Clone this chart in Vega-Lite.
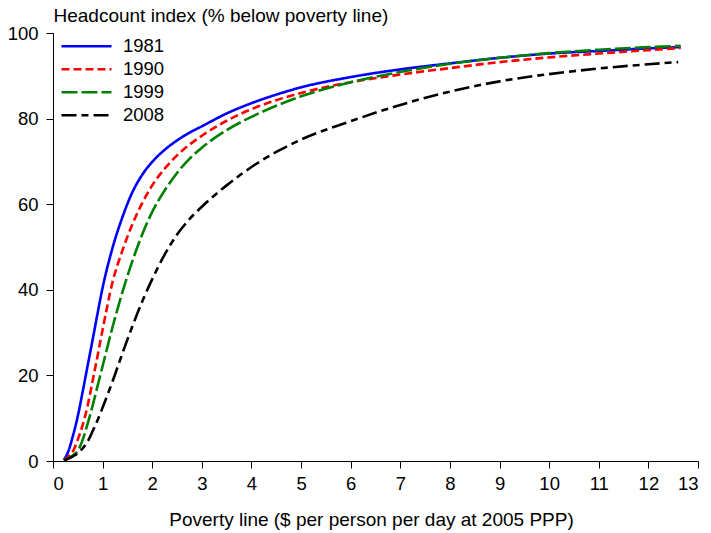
{
  "$schema": "https://vega.github.io/schema/vega-lite/v6.json",
  "autosize": "none",
  "padding": {"left": 53, "top": 33, "right": 13, "bottom": 72},
  "width": 645,
  "height": 428,
  "background": "white",
  "config": {
    "view": {"stroke": null},
    "font": "Liberation Sans",
    "axis": {"grid": false, "domainColor": "black", "tickColor": "black", "domainWidth": 1, "tickWidth": 1, "tickSize": 7, "labelColor": "black", "titleColor": "black", "labelFontSize": 18.5, "titleFontSize": 19, "titleFontWeight": "normal", "labelFont": "Liberation Sans", "titleFont": "Liberation Sans"}
  },
  "data": {"values": [
    {"x":0.22,"y":0.3,"year":"1981"},{"x":0.3,"y":2,"year":"1981"},{"x":0.4,"y":5.8,"year":"1981"},{"x":0.5,"y":10.5,"year":"1981"},{"x":0.6,"y":16.3,"year":"1981"},{"x":0.7,"y":22.4,"year":"1981"},{"x":0.8,"y":28.4,"year":"1981"},{"x":0.9,"y":34.6,"year":"1981"},{"x":1.0,"y":40.5,"year":"1981"},{"x":1.2,"y":49.8,"year":"1981"},{"x":1.4,"y":57.0,"year":"1981"},{"x":1.6,"y":62.8,"year":"1981"},{"x":1.8,"y":66.9,"year":"1981"},{"x":2.0,"y":69.9,"year":"1981"},{"x":2.25,"y":72.7,"year":"1981"},{"x":2.5,"y":74.9,"year":"1981"},{"x":2.75,"y":76.7,"year":"1981"},{"x":3.0,"y":78.2,"year":"1981"},{"x":3.5,"y":81.2,"year":"1981"},{"x":4.0,"y":83.6,"year":"1981"},{"x":4.5,"y":85.6,"year":"1981"},{"x":5.0,"y":87.3,"year":"1981"},{"x":6.0,"y":89.7,"year":"1981"},{"x":7.0,"y":91.5,"year":"1981"},{"x":8.0,"y":92.9,"year":"1981"},{"x":9.0,"y":94.2,"year":"1981"},{"x":10.0,"y":95.2,"year":"1981"},{"x":11.0,"y":95.8,"year":"1981"},{"x":12.0,"y":96.4,"year":"1981"},{"x":12.65,"y":96.7,"year":"1981"},
    {"x":0.22,"y":0.2,"year":"1990"},{"x":0.3,"y":0.9,"year":"1990"},{"x":0.4,"y":2.2,"year":"1990"},{"x":0.5,"y":5,"year":"1990"},{"x":0.6,"y":8.5,"year":"1990"},{"x":0.7,"y":13,"year":"1990"},{"x":0.8,"y":18.8,"year":"1990"},{"x":0.9,"y":24.7,"year":"1990"},{"x":1.0,"y":30.7,"year":"1990"},{"x":1.2,"y":41.8,"year":"1990"},{"x":1.4,"y":49.2,"year":"1990"},{"x":1.6,"y":55.3,"year":"1990"},{"x":1.8,"y":60.3,"year":"1990"},{"x":2.0,"y":64.4,"year":"1990"},{"x":2.25,"y":68.3,"year":"1990"},{"x":2.5,"y":71.4,"year":"1990"},{"x":2.75,"y":73.9,"year":"1990"},{"x":3.0,"y":76.0,"year":"1990"},{"x":3.5,"y":79.5,"year":"1990"},{"x":4.0,"y":82.2,"year":"1990"},{"x":4.5,"y":84.3,"year":"1990"},{"x":5.0,"y":86,"year":"1990"},{"x":6.0,"y":88.5,"year":"1990"},{"x":7.0,"y":90.3,"year":"1990"},{"x":8.0,"y":91.8,"year":"1990"},{"x":9.0,"y":93.2,"year":"1990"},{"x":10.0,"y":94.3,"year":"1990"},{"x":11.0,"y":95.2,"year":"1990"},{"x":12.0,"y":96,"year":"1990"},{"x":12.65,"y":96.5,"year":"1990"},
    {"x":0.22,"y":0.1,"year":"1999"},{"x":0.3,"y":0.6,"year":"1999"},{"x":0.4,"y":1.3,"year":"1999"},{"x":0.5,"y":2.4,"year":"1999"},{"x":0.6,"y":5,"year":"1999"},{"x":0.7,"y":8.8,"year":"1999"},{"x":0.8,"y":13,"year":"1999"},{"x":0.9,"y":17.6,"year":"1999"},{"x":1.0,"y":22.2,"year":"1999"},{"x":1.2,"y":31.3,"year":"1999"},{"x":1.4,"y":39.5,"year":"1999"},{"x":1.6,"y":46.7,"year":"1999"},{"x":1.8,"y":53.0,"year":"1999"},{"x":2.0,"y":58.2,"year":"1999"},{"x":2.25,"y":63.2,"year":"1999"},{"x":2.5,"y":67.3,"year":"1999"},{"x":2.75,"y":70.6,"year":"1999"},{"x":3.0,"y":73.2,"year":"1999"},{"x":3.5,"y":77.3,"year":"1999"},{"x":4.0,"y":80.4,"year":"1999"},{"x":4.5,"y":83,"year":"1999"},{"x":5.0,"y":85.2,"year":"1999"},{"x":6.0,"y":88.5,"year":"1999"},{"x":7.0,"y":90.9,"year":"1999"},{"x":8.0,"y":92.8,"year":"1999"},{"x":9.0,"y":94.2,"year":"1999"},{"x":10.0,"y":95.3,"year":"1999"},{"x":11.0,"y":96.1,"year":"1999"},{"x":12.0,"y":96.7,"year":"1999"},{"x":12.65,"y":97,"year":"1999"},
    {"x":0.22,"y":0.1,"year":"2008"},{"x":0.3,"y":0.5,"year":"2008"},{"x":0.4,"y":1.1,"year":"2008"},{"x":0.5,"y":1.8,"year":"2008"},{"x":0.6,"y":3,"year":"2008"},{"x":0.7,"y":4.6,"year":"2008"},{"x":0.8,"y":7.0,"year":"2008"},{"x":0.9,"y":9.6,"year":"2008"},{"x":1.0,"y":12.5,"year":"2008"},{"x":1.2,"y":18.6,"year":"2008"},{"x":1.4,"y":25.2,"year":"2008"},{"x":1.6,"y":31.5,"year":"2008"},{"x":1.8,"y":37.3,"year":"2008"},{"x":2.0,"y":42.5,"year":"2008"},{"x":2.25,"y":48.2,"year":"2008"},{"x":2.5,"y":52.9,"year":"2008"},{"x":2.75,"y":56.5,"year":"2008"},{"x":3.0,"y":59.4,"year":"2008"},{"x":3.5,"y":64.4,"year":"2008"},{"x":4.0,"y":68.7,"year":"2008"},{"x":4.5,"y":72.2,"year":"2008"},{"x":5.0,"y":75.1,"year":"2008"},{"x":6.0,"y":79.4,"year":"2008"},{"x":7.0,"y":83.2,"year":"2008"},{"x":8.0,"y":86.3,"year":"2008"},{"x":9.0,"y":88.7,"year":"2008"},{"x":10.0,"y":90.4,"year":"2008"},{"x":11.0,"y":91.7,"year":"2008"},{"x":12.0,"y":92.7,"year":"2008"},{"x":12.6,"y":93.2,"year":"2008"}
  ]},
  "mark": {"type": "line", "strokeWidth": 2.6, "strokeCap": "butt", "interpolate": "monotone"},
  "encoding": {
    "x": {"field": "x", "type": "quantitative", "scale": {"domain": [0, 13], "nice": false, "zero": false},
      "axis": {"values": [0,1,2,3,4,5,6,7,8,9,10,11,12,13], "format": "d", "labelPadding": 6, "title": "Poverty line ($ per person per day at 2005 PPP)", "titleBaseline": "alphabetic", "titleY": 64, "titleX": 318}},
    "y": {"field": "y", "type": "quantitative", "scale": {"domain": [0, 100], "nice": false},
      "axis": {"values": [0,20,40,60,80,100], "labelPadding": 8, "title": "Headcount index (% below poverty line)", "titleAngle": 0, "titleAlign": "left", "titleBaseline": "alphabetic", "titleX": 0, "titleY": -12}},
    "color": {"field": "year", "type": "nominal", "scale": {"domain": ["1981","1990","1999","2008"], "range": ["#0000FF","#FF0000","#008000","#000000"]},
      "legend": {"title": null, "orient": "none", "legendX": 7, "legendY": 2, "symbolType": "stroke", "symbolSize": 2500, "symbolStrokeWidth": 2.6, "clipHeight": 22.4, "rowPadding": 0, "padding": 0, "labelFontSize": 18.5, "labelFont": "Liberation Sans", "labelColor": "black", "labelOffset": 10}},
    "strokeDash": {"field": "year", "type": "nominal", "scale": {"domain": ["1981","1990","1999","2008"], "range": [[1,0],[8,4],[16,4],[15,5,7,5]]}, "legend": null}
  }
}
